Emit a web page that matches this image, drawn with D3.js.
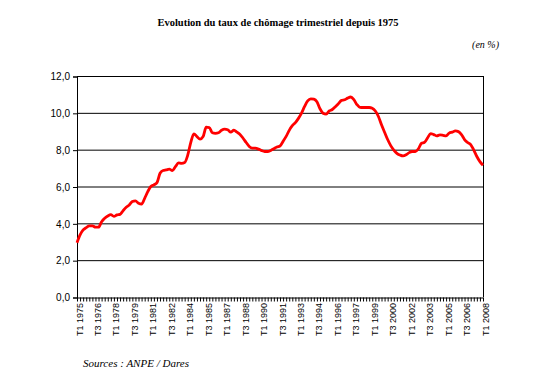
<!DOCTYPE html>
<html>
<head>
<meta charset="UTF-8">
<title>Evolution du taux de chômage</title>
<script src="https://d3js.org/d3.v7.min.js"></script>
<style>
body { margin: 0; background: #fff; }
</style>
</head>
<body>
<script>

/* Quarterly unemployment rate, T1 1975 .. T1 2008 (4 values per year) */
var firstYear = 1975
var rates = [
  2.95, 3.37, 3.64, 3.77,   // 1975
  3.86, 3.86, 3.79, 3.79,   // 1976
  4.09, 4.28, 4.40, 4.47,   // 1977
  4.38, 4.46, 4.49, 4.69,   // 1978
  4.87, 5.00, 5.18, 5.22,   // 1979
  5.09, 5.05, 5.36, 5.72,   // 1980
  6.00, 6.09, 6.21, 6.72,   // 1981
  6.87, 6.90, 6.94, 6.87,   // 1982
  7.08, 7.28, 7.26, 7.30,   // 1983
  7.70, 8.40, 8.86, 8.71,   // 1984
  8.57, 8.71, 9.22, 9.20,   // 1985
  8.92, 8.89, 8.92, 9.05,   // 1986
  9.11, 9.08, 8.95, 9.06,   // 1987
  8.95, 8.83, 8.62, 8.39,   // 1988
  8.17, 8.08, 8.08, 8.03,   // 1989
  7.95, 7.90, 7.90, 7.96,   // 1990
  8.05, 8.15, 8.20, 8.45,   // 1991
  8.72, 9.05, 9.30, 9.47,   // 1992
  9.70, 9.98, 10.35, 10.65, // 1993
  10.76, 10.74, 10.60, 10.22, // 1994
  9.98, 9.93, 10.10, 10.18, // 1995
  10.33, 10.50, 10.68, 10.71, // 1996
  10.80, 10.86, 10.72, 10.45, // 1997
  10.30, 10.29, 10.29, 10.29, // 1998
  10.25, 10.10, 9.80, 9.35,  // 1999
  8.95, 8.55, 8.22, 7.98,   // 2000
  7.80, 7.71, 7.66, 7.72,   // 2001
  7.84, 7.90, 7.90, 8.05,   // 2002
  8.35, 8.40, 8.65, 8.87,   // 2003
  8.82, 8.75, 8.80, 8.78,   // 2004
  8.75, 8.90, 8.95, 9.02,   // 2005
  8.98, 8.82, 8.55, 8.39,   // 2006
  8.28, 7.98, 7.63, 7.35,   // 2007
  7.15                      // 2008
]
var tickLabels = ["T1 1975", "T3 1976", "T1 1978", "T3 1979", "T1 1981", "T3 1982",
  "T1 1984", "T3 1985", "T1 1987", "T3 1988", "T1 1990", "T3 1991", "T1 1993",
  "T3 1994", "T1 1996", "T3 1997", "T1 1999", "T3 2000", "T1 2002", "T3 2003",
  "T1 2005", "T3 2006", "T1 2008"]
var yTicks = [0, 2, 4, 6, 8, 10, 12]

/* Category names, one per quarter */
var quarters = rates.map(function(d, i) {
  return 'T' + (i % 4 + 1) + ' ' + (firstYear + Math.floor(i / 4))
})

var W = 555, H = 389
var pLeft = 77, pRight = 483, pTop = 76, pBottom = 297

var svg = d3.select('body').append('svg')
  .attr('width', W).attr('height', H)

var x = d3.scalePoint().domain(quarters).range([pLeft, pRight])
var y = d3.scaleLinear().domain([0, 12]).range([pBottom, pTop])

/* Title and notes */
svg.append('text')
  .attr('x', 278).attr('y', 26)
  .attr('text-anchor', 'middle')
  .style('font-family', 'Liberation Serif, serif')
  .style('font-weight', 'bold')
  .style('font-size', '10.5px')
  .text('Evolution du taux de chômage trimestriel depuis 1975')

svg.append('text')
  .attr('x', 499).attr('y', 48)
  .attr('text-anchor', 'end')
  .style('font-family', 'Liberation Serif, serif')
  .style('font-style', 'italic')
  .style('font-size', '10px')
  .text('(en %)')

svg.append('text')
  .attr('x', 83).attr('y', 367)
  .style('font-family', 'Liberation Serif, serif')
  .style('font-style', 'italic')
  .style('font-size', '11px')
  .text('Sources : ANPE / Dares')

/* Horizontal grid lines */
svg.append('g').selectAll('line')
  .data(yTicks.filter(function(d) { return d > 0 }))
  .enter().append('line')
  .attr('x1', pLeft).attr('x2', pRight)
  .attr('y1', function(d) { return y(d) + 0.5 })
  .attr('y2', function(d) { return y(d) + 0.5 })
  .style('stroke', '#000').style('stroke-width', 1)

/* Right border of the plot area */
svg.append('line')
  .attr('x1', pRight + 0.5).attr('x2', pRight + 0.5)
  .attr('y1', pTop).attr('y2', pBottom)
  .style('stroke', '#000')

/* Y axis */
var yAxis = d3.axisLeft(y).tickValues(yTicks).tickSize(4).tickPadding(3)
  .tickFormat(function(d) { return d3.format('.1f')(d).replace('.', ',') })
var gy = svg.append('g')
  .attr('transform', 'translate(' + pLeft + ',0.5)')
  .call(yAxis)
gy.select('.domain').attr('stroke', '#000')
gy.selectAll('text')
  .style('font-family', 'Liberation Sans, Arial, sans-serif')
  .style('font-size', '10px')
  .attr('fill', '#000')

/* X axis: a tick per quarter, a label every 6 quarters */
var xAxis = d3.axisBottom(x).tickSize(4).tickSizeOuter(0).tickFormat('')
var gx = svg.append('g')
  .attr('transform', 'translate(0,' + (pBottom + 0.5) + ')')
  .call(xAxis)
gx.select('.domain').attr('stroke', '#000')

svg.append('g').selectAll('text')
  .data(tickLabels)
  .enter().append('text')
  .attr('transform', function(d) {
    return 'translate(' + (x(d) + 5.5) + ',' + (pBottom + 6) + ') rotate(-90)'
  })
  .attr('text-anchor', 'end')
  .style('font-family', 'Liberation Sans, Arial, sans-serif')
  .style('font-size', '9px')
  .text(function(d) { return d })

/* The series */
var line = d3.line()
  .x(function(d, i) { return x(quarters[i]) })
  .y(function(d) { return y(d) })
  .curve(d3.curveMonotoneX)

svg.append('path')
  .datum(rates)
  .attr('d', line)
  .style('fill', 'none')
  .style('stroke', '#ff0000')
  .style('stroke-width', 2.8)
  .style('stroke-linejoin', 'round')

</script>
</body>
</html>
